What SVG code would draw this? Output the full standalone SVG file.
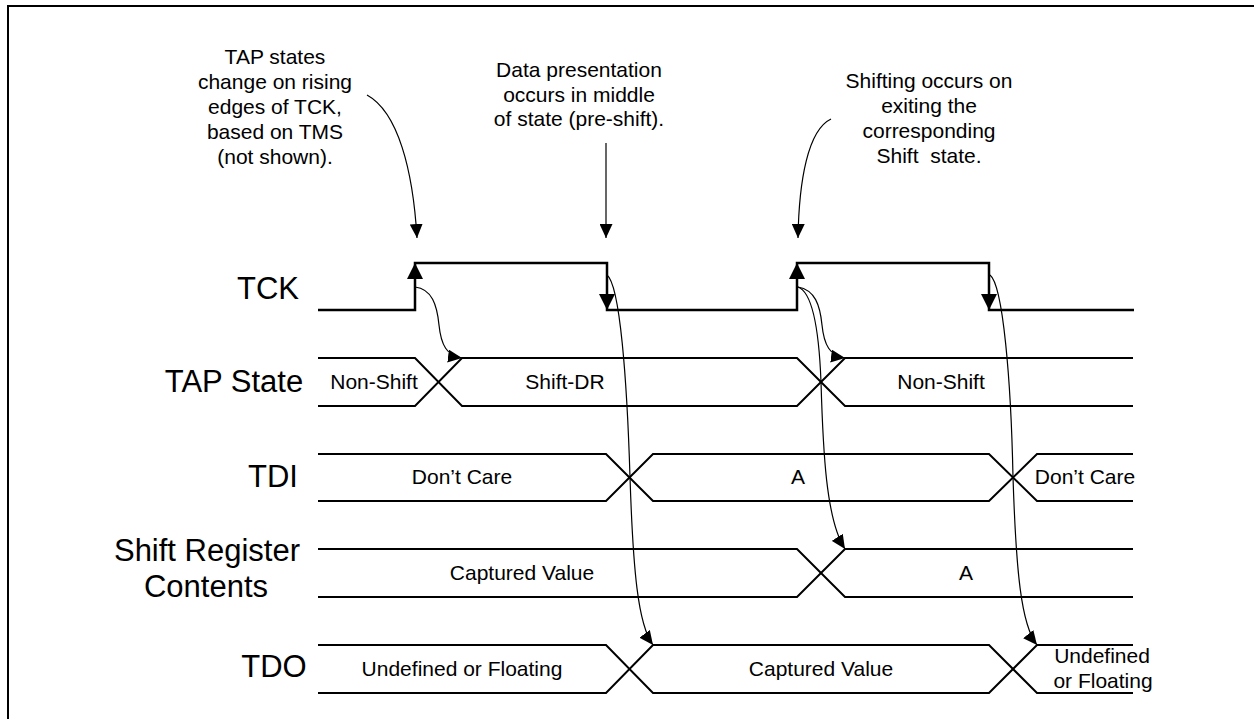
<svg xmlns="http://www.w3.org/2000/svg" width="1254" height="719" viewBox="0 0 1254 719">
<style>
text{font-family:"Liberation Sans",Arial,sans-serif;fill:#000}
.sig{font-size:31px;text-anchor:middle}
.lbl{font-size:21px;text-anchor:middle}
.note{font-size:21px;text-anchor:middle}
.wave{fill:none;stroke:#000;stroke-width:2.5}
.bus{fill:none;stroke:#000;stroke-width:2}
.cur{fill:none;stroke:#000;stroke-width:1.2}
</style>
<defs>
<marker id="ah" markerUnits="userSpaceOnUse" markerWidth="14" markerHeight="13" viewBox="0 0 14 13" refX="14" refY="6.5" orient="auto">
<path d="M0,0 L14,6.5 L0,13 Z" fill="#000"/>
</marker>
</defs>
<rect x="8" y="6" width="1270" height="730" fill="none" stroke="#000" stroke-width="2"/>

<g id="labels">
<text class="sig" x="268" y="299">TCK</text>
<text class="sig" x="234" y="392">TAP State</text>
<text class="sig" x="273" y="487">TDI</text>
<text class="sig" x="207" y="561">Shift Register</text>
<text class="sig" x="206" y="597">Contents</text>
<text class="sig" x="274" y="677">TDO</text>
</g>

<g id="tck">
<path class="wave" d="M318,310 H415 V263 H607 V310 H797 V263 H989 V310 H1134"/>
<polygon points="415,263 407,279 423,279"/>
<polygon points="797,263 789,279 805,279"/>
<polygon points="607,310 599,294 615,294"/>
<polygon points="989,310 981,294 997,294"/>
</g>

<g id="tap-state">
<path class="bus" d="M318,358 H415 L462,406 H797 L845,358 H1133"/>
<path class="bus" d="M318,406 H415 L462,358 H797 L845,406 H1133"/>
<text class="lbl" x="374" y="389">Non-Shift</text>
<text class="lbl" x="565" y="389">Shift-DR</text>
<text class="lbl" x="941" y="389">Non-Shift</text>
</g>

<g id="tdi">
<path class="bus" d="M318,454 H606 L653,501 H989 L1037,454 H1133"/>
<path class="bus" d="M318,501 H606 L653,454 H989 L1037,501 H1133"/>
<text class="lbl" x="462" y="484">Don’t Care</text>
<text class="lbl" x="798" y="484">A</text>
<text class="lbl" x="1085" y="484">Don’t Care</text>
</g>

<g id="shift-register">
<path class="bus" d="M318,549 H797 L845,597 H1133"/>
<path class="bus" d="M318,597 H797 L845,549 H1133"/>
<text class="lbl" x="522" y="580">Captured Value</text>
<text class="lbl" x="966" y="580">A</text>
</g>

<g id="tdo">
<path class="bus" d="M318,645 H606 L653,693 H989 L1037,645 H1133"/>
<path class="bus" d="M318,693 H606 L653,645 H989 L1037,693 H1133"/>
<text class="lbl" x="462" y="676">Undefined or Floating</text>
<text class="lbl" x="821" y="676">Captured Value</text>
<text class="lbl" x="1102" y="663">Undefined</text>
<text class="lbl" x="1103" y="688">or Floating</text>
</g>

<g id="note-tap">
<text class="note" x="275" y="64">TAP states</text>
<text class="note" x="275" y="89">change on rising</text>
<text class="note" x="275" y="114">edges of TCK,</text>
<text class="note" x="275" y="139">based on TMS</text>
<text class="note" x="275" y="164">(not shown).</text>
</g>
<g id="note-data">
<text class="note" x="579" y="77">Data presentation</text>
<text class="note" x="579" y="102">occurs in middle</text>
<text class="note" x="579" y="126">of state (pre-shift).</text>
</g>
<g id="note-shift">
<text class="note" x="929" y="88">Shifting occurs on</text>
<text class="note" x="929" y="113">exiting the</text>
<text class="note" x="929" y="138">corresponding</text>
<text class="note" x="929" y="163" xml:space="preserve">Shift  state.</text>
</g>

<g id="connectors">
<path class="cur" marker-end="url(#ah)" d="M367,95 C398,112 413,170 417,238"/>
<path class="cur" marker-end="url(#ah)" d="M606,143 V238"/>
<path class="cur" marker-end="url(#ah)" d="M831,119 C808,130 799,180 798,238"/>
<path class="cur" marker-end="url(#ah)" d="M415,287 C432,289 437,305 439,325 C441,345 447,356 462,358"/>
<path class="cur" marker-end="url(#ah)" d="M798,287 C815,290 820,305 822,325 C824,345 830,356 845,358"/>
<path class="cur" marker-end="url(#ah)" d="M798,287 C812,292 819,330 821,382 C823,450 826,520 845,549"/>
<path class="cur" marker-end="url(#ah)" d="M607,275 C620,285 627,380 630,477 C633,570 638,625 653,645"/>
<path class="cur" marker-end="url(#ah)" d="M990,275 C1003,285 1011,380 1013,477 C1016,570 1021,625 1037,645"/>
</g>
</svg>
